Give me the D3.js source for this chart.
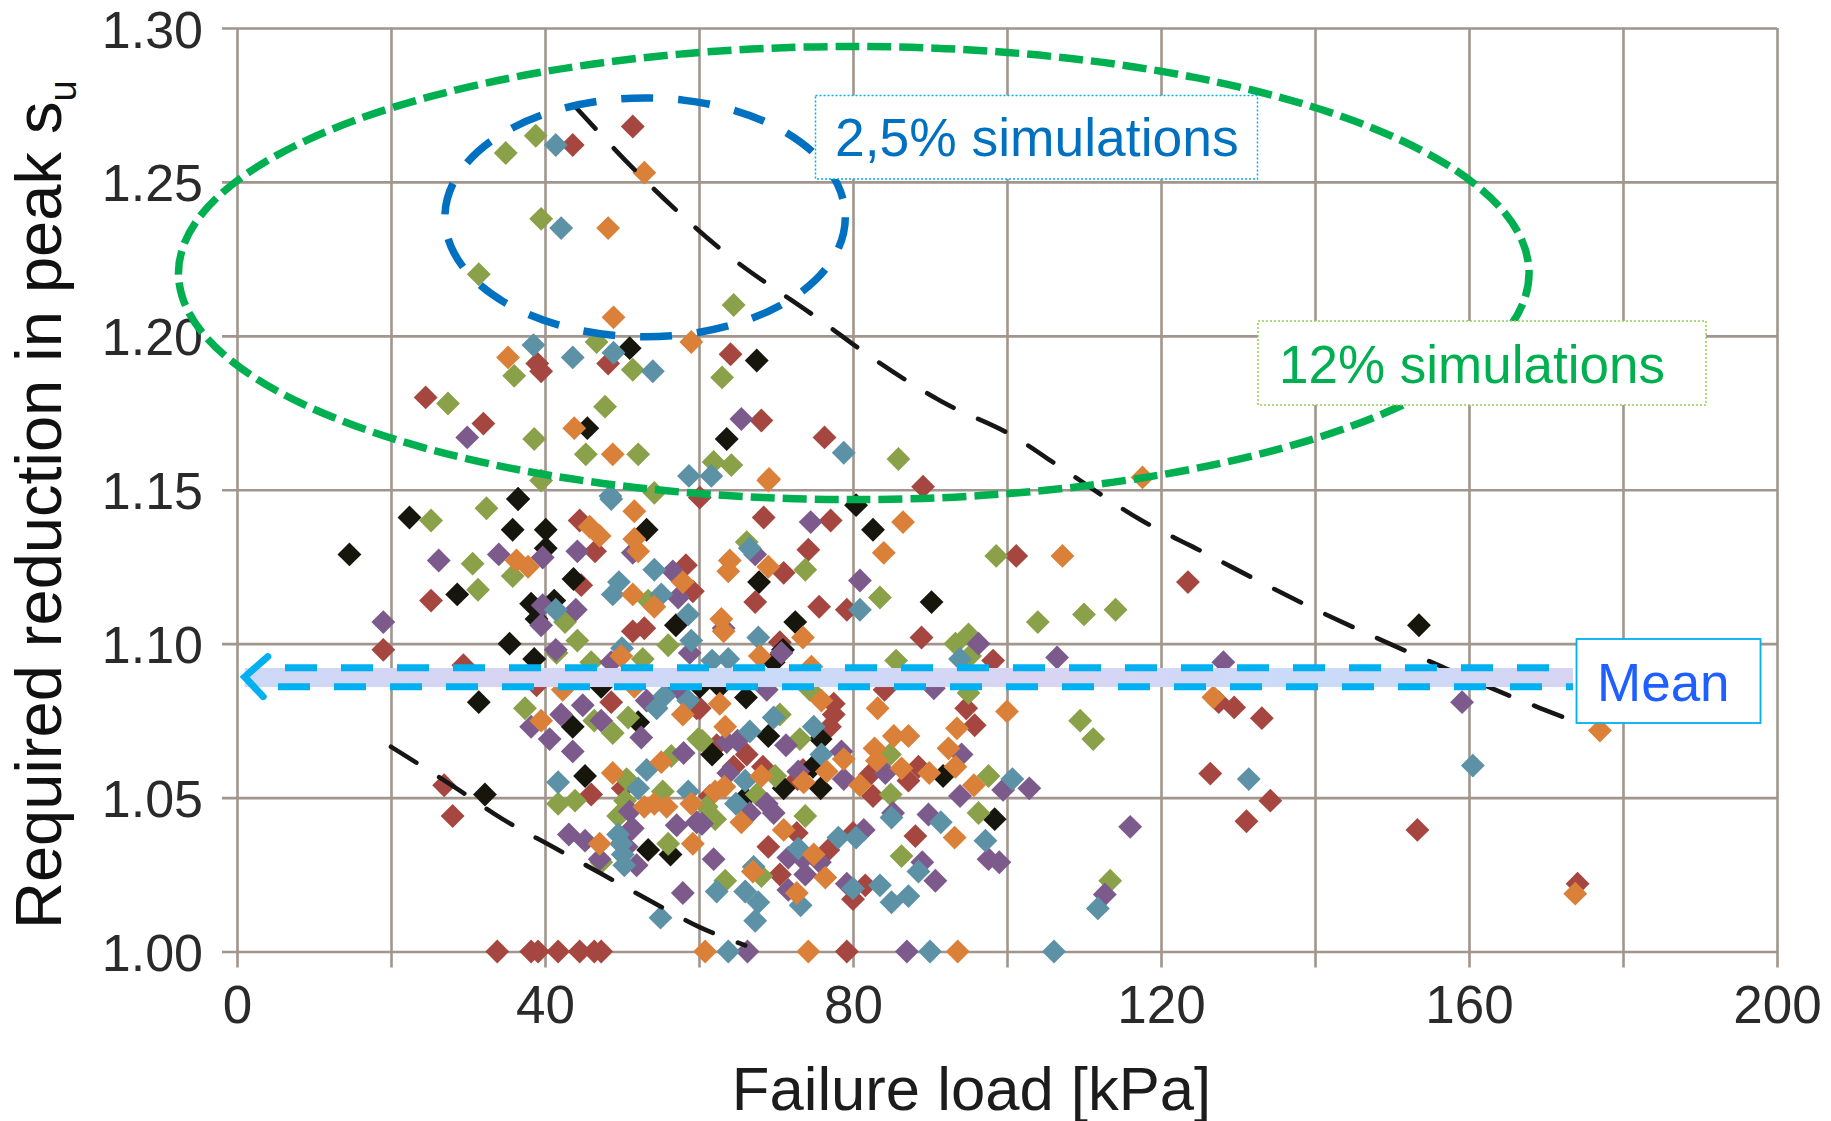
<!DOCTYPE html>
<html><head><meta charset="utf-8">
<script src="https://cdn.jsdelivr.net/npm/d3@7/dist/d3.min.js"></script>
<style>html,body{margin:0;padding:0;background:#fff}svg{display:block}</style>
</head><body><svg id="c" width="1831" height="1121"></svg>
<script>
const xTicks=[0,20,40,60,80,100,120,140,160,180,200];
const yTicks=[1.00,1.05,1.10,1.15,1.20,1.25,1.30];
const xTitle="Failure load [kPa]";
const yTitle="Required reduction in peak s";
const yTitleSub="u";
const seriesNames=["red","black","olive","purple","teal","orange"];
const seriesColors=["#A5473F","#171611","#8AA148","#7D5A8C","#5B91A6","#DB8037"];

const red=[[25.2,1.114],[19,1.098],[29.4,1.093],[44.5,1.14],[46.5,1.13],[44.7,1.119],[51.4,1.104],[52.9,1.105],[58.3,1.1255],[38.9,1.0865],[48.6,1.081],[46,1.051],[26.9,1.054],[28,1.044],[33.8,1],[38.2,1],[39.1,1],[41.7,1],[44.5,1],[46.4,1],[47.3,1],[51.2,1.0397],[59.2,1.117],[50.1,1.053],[59.7,1.079],
[60.1,1.1475],[68.4,1.141],[77.1,1.14],[74.2,1.1305],[71,1.123],[67.3,1.1135],[75.6,1.112],[79.2,1.111],[88.9,1.102],[101.2,1.1285],[89.1,1.151],[98.2,1.0945],[84.1,1.085],[70.5,1.1005],[94.7,1.079],[95.8,1.0735],[77.5,1.0805],[77.5,1.077],[77,1.073],[60.1,1.079],[66.2,1.064],[68.3,1.06],[88.5,1.06],[87.2,1.0555],[82.2,1.0575],[82.6,1.0505],[72.8,1.056],[61.4,1.0505],[72.7,1.0385],[69,1.034],[76.8,1.033],[70.5,1.025],[80,1.0385],[88.1,1.0375],[81.6,1.0215],[80,1.017],[79.2,1],[64.5,1.06],[62.3,1.067],[73.5,1.059],
[43.6,1.262],[51.4,1.268],[24.5,1.18],[32,1.1715],[39,1.191],[39.5,1.1885],[48.2,1.191],[64.1,1.194],[68.1,1.1725],[76.3,1.167],
[123.5,1.12],[129.5,1.0793],[127.5,1.081],[133.1,1.0758],[126.4,1.0578],[134.2,1.049],[131.1,1.0423],[153.3,1.0395],[174.1,1.022]];

const black=[[14.6,1.129],[22.4,1.141],[36.5,1.147],[35.8,1.137],[40.1,1.137],[40.1,1.131],[28.6,1.116],[43.7,1.121],[38.2,1.113],[41.2,1.114],[38.9,1.108],[57,1.106],[53.2,1.137],[35.4,1.1],[38.6,1.095],[47.3,1.086],[31.4,1.081],[43.6,1.073],[52.1,1.0745],[45.2,1.057],[32.2,1.051],[53.4,1.033],[56.3,1.0315],
[80.4,1.145],[82.6,1.137],[67.8,1.12],[72.5,1.107],[90.2,1.1135],[66.1,1.0825],[60.1,1.086],[62.7,1.086],[69,1.07],[75.8,1.069],[61.7,1.064],[74.8,1.06],[71,1.053],[75.8,1.053],[91.7,1.057],[98.4,1.043],[66,1.05],[70.9,1.098],[69.7,1.094],
[51,1.196],[67.5,1.192],[45.5,1.17],[63.6,1.1665],[36.5,1.147],[153.5,1.106]];

const olive=[[25.2,1.14],[32.4,1.144],[30.6,1.126],[31.3,1.1175],[35.8,1.122],[39.5,1.153],[54.2,1.149],[42.6,1.107],[44.2,1.101],[41.5,1.097],[56,1.0995],[46,1.094],[52.7,1.095],[53.4,1.114],[37.4,1.079],[48.8,1.071],[46.4,1.075],[50.8,1.076],[41.7,1.048],[43.9,1.049],[50.6,1.056],[49.5,1.044],[50.4,1.049],[55.3,1.052],[56,1.035],[47.3,1.029],[56.4,1.0635],[59.9,1.069],
[66.2,1.133],[73.8,1.124],[83.5,1.115],[98.6,1.1285],[104,1.107],[110,1.1095],[114.1,1.111],[85.6,1.0945],[93.3,1.1],[95,1.103],[95.2,1.096],[95,1.084],[70.5,1.077],[73.1,1.069],[60.4,1.0685],[84.8,1.064],[69.9,1.057],[97.6,1.057],[84.9,1.051],[67.5,1.051],[73.8,1.044],[96.3,1.045],[61,1.047],[62.1,1.043],[86.3,1.031],[63.4,1.023],[109.5,1.075],[111.2,1.069],[113.4,1.023],[68.1,1.0245],[74.4,1.085],
[34.9,1.2594],[38.8,1.265],[39.5,1.238],[31.4,1.22],[64.5,1.21],[46.7,1.198],[51.4,1.189],[63,1.1865],[36,1.187],[27.4,1.178],[47.8,1.177],[38.6,1.1665],[45.3,1.1615],[52.1,1.1615],[61.9,1.159],[64.2,1.158],[85.9,1.16]];

const purple=[[26.2,1.127],[19,1.107],[34,1.129],[39.7,1.128],[44.2,1.13],[51.4,1.1295],[39.7,1.1125],[44,1.111],[39.5,1.106],[41.4,1.098],[56.6,1.1235],[57.3,1.115],[58.8,1.097],[48.6,1.094],[53.2,1.0815],[57.3,1.0855],[38.2,1.073],[42.1,1.077],[44.9,1.08],[47.3,1.075],[40.6,1.069],[43.6,1.065],[52.5,1.0695],[58,1.0645],[51,1.0455],[51.4,1.04],[43.1,1.038],[45.2,1.036],[47.1,1.03],[51.9,1.028],[50.6,1.034],[57.1,1.041],[57.9,1.019],[59.7,1.042],
[74.5,1.1395],[67.3,1.129],[80.9,1.1205],[63.2,1.105],[70.7,1.097],[96.3,1.1],[106.5,1.0955],[90.5,1.0855],[68.8,1.085],[63.6,1.068],[65,1.0685],[71.3,1.067],[94.1,1.064],[78.5,1.065],[72.9,1.0585],[63.8,1.058],[78.8,1.056],[84.2,1.058],[93.9,1.0505],[99.5,1.0525],[102.9,1.053],[68.8,1.048],[69.7,1.045],[66.6,1.045],[89.8,1.0445],[85.2,1.045],[60.4,1.0415],[81.4,1.0395],[116,1.0405],[61.9,1.03],[71.6,1.0305],[73.8,1.025],[75.7,1.029],[73.5,1.03],[89,1.029],[97.6,1.03],[99,1.029],[90.7,1.023],[79.2,1.022],[71.6,1.02],[112.7,1.0185],[66.3,1],[87,1],
[29.9,1.167],[65.5,1.173],[128.1,1.094],[159.1,1.081]];

const teal=[[48.6,1.147],[54.2,1.124],[49.6,1.12],[48.8,1.116],[55.1,1.116],[58.6,1.1095],[59,1.101],[41.4,1.111],[50,1.0985],[54.5,1.079],[55.5,1.083],[58.6,1.0815],[41.7,1.055],[53.2,1.059],[52.1,1.053],[58.6,1.052],[49.5,1.038],[49.9,1.035],[50.1,1.0315],[50.3,1.028],[55,1.011],
[66.6,1.131],[80.9,1.111],[67.7,1.102],[63.8,1.095],[61.7,1.0945],[93.9,1.095],[69.7,1.076],[74.9,1.073],[66.6,1.0715],[75.9,1.064],[66,1.0555],[64.8,1.048],[85,1.0435],[91.4,1.042],[100.7,1.056],[97.2,1.036],[72.9,1.0335],[78.1,1.037],[80.4,1.037],[88.5,1.026],[62.3,1.0195],[66,1.0195],[67.7,1.016],[67.1,1.0275],[73.2,1.015],[67.3,1.01],[80,1.0205],[83.5,1.0215],[85,1.016],[87.2,1.018],[111.8,1.014],[63.8,1],[90,1],[106.1,1],
[41.4,1.262],[42.1,1.235],[38.5,1.197],[43.6,1.193],[48.9,1.1945],[54,1.1885],[58.7,1.1545],[61.6,1.1545],[78.8,1.162],[48.5,1.148],[131.4,1.056],[160.5,1.0604]];

const orange=[[51.6,1.143],[36.3,1.127],[37.8,1.125],[45.8,1.138],[47.1,1.135],[51.6,1.134],[52.1,1.13],[57.9,1.12],[51.4,1.116],[54.2,1.112],[49.9,1.096],[39.5,1.075],[57.9,1.077],[48.8,1.058],[55.1,1.0615],[47.1,1.035],[52.9,1.047],[54.2,1.048],[55.8,1.047],[59,1.048],[59.2,1.035],[42.3,1.085],[51.6,1.086],
[86.5,1.1395],[84,1.1295],[64,1.127],[63.8,1.1235],[69,1.125],[107.2,1.1285],[62.9,1.108],[63.2,1.104],[73.5,1.102],[67.9,1.096],[74.6,1.0925],[75.9,1.0815],[83.2,1.079],[62.7,1.0805],[63.4,1.073],[100,1.078],[93.5,1.0725],[85.3,1.07],[87.2,1.07],[82.8,1.066],[92.4,1.066],[83.1,1.062],[93.3,1.06],[86.3,1.0595],[89.9,1.058],[78.8,1.0625],[76.6,1.0585],[80.9,1.054],[68.1,1.057],[73.6,1.055],[95.7,1.054],[63.3,1.0535],[62.1,1.052],[65.5,1.042],[71,1.0395],[74.9,1.0315],[93.2,1.037],[76.4,1.024],[67,1.026],[72.7,1.019],[60.8,1],[74.2,1],[93.6,1],[69,1.153],
[52.9,1.253],[48.2,1.235],[48.9,1.206],[59,1.198],[35.2,1.193],[43.8,1.17],[48.8,1.1615],[69.1,1.1535],
[117.6,1.154],[126.8,1.0826],[173.8,1.0188],[177,1.0718]];

const seriesData=[red,black,olive,purple,teal,orange];

const upperEnvelope=[[43.9,1.2745],[53.2,1.25],[62.4,1.229],[75.8,1.205],[82.4,1.193],[92,1.178],[100.4,1.168],[108,1.1555],[117.5,1.14],[124.8,1.1306],[139.3,1.112],[154.2,1.095],[169.3,1.079],[175,1.0735]];
const lowerEnvelope=[[20,1.0665],[28.5,1.053],[34.5,1.043],[41,1.034],[47.5,1.025],[54,1.016],[60,1.008],[66,1.002]];
const meanValue=1.089, meanUpper=1.0922, meanLower=1.0860, meanFromX=1, meanToX=173.5;
const arrowHead=[[4,1.0958],[1,1.0892],[3.4,1.0828]];
const greenEllipse={cx:80.1,cy:1.2204,rx:87.7,ry:0.0736};
const blueEllipse={cx:53,cy:1.2385,rx:26,ry:0.0388};

const W=1831,H=1121;
const FF="'Liberation Sans',Arial,sans-serif";
const x=d3.scaleLinear().domain([0,200]).range([237,1777]);
const y=d3.scaleLinear().domain([1,1.3]).range([951.5,28]);
const svg=d3.select("#c");
const defs=svg.append("defs");
const blur=defs.append("filter").attr("id","soft").attr("x","-5%").attr("y","-5%").attr("width","110%").attr("height","110%");
blur.append("feGaussianBlur").attr("stdDeviation",0.7);
const grad=defs.append("linearGradient").attr("id","band");
[["0%","#ccd9f7"],["20%","#d8d4f3"],["40%","#c9dbf9"],["60%","#dad4f3"],["80%","#c8dcfa"],["100%","#d6d4f3"]].forEach(s=>grad.append("stop").attr("offset",s[0]).attr("stop-color",s[1]));

const GRID="#A1958D";
const gx=svg.append("g").attr("transform",`translate(0,${y(1)})`)
 .call(d3.axisBottom(x).tickValues(xTicks).tickFormat(d=>d%40===0?d:"").tickSizeOuter(0));
gx.select(".domain").remove();
gx.selectAll(".tick line").attr("y1",16).attr("y2",y(1.3)-y(1)).attr("stroke",GRID).attr("stroke-width",2.6);
gx.selectAll(".tick text").attr("y",0).attr("dy",71).attr("font-family",FF).attr("font-size",53).attr("fill","#2a2a2a");
const gy=svg.append("g").attr("transform",`translate(${x(0)},0)`)
 .call(d3.axisLeft(y).tickValues(yTicks).tickFormat(d3.format(".2f")).tickSizeOuter(0));
gy.select(".domain").remove();
gy.selectAll(".tick line").attr("x1",-15).attr("x2",x(200)-x(0)).attr("stroke",GRID).attr("stroke-width",2.6);
gy.selectAll(".tick text").attr("x",-34).attr("dy",19).attr("font-family",FF).attr("font-size",52).attr("fill","#2a2a2a");

const sym=d3.symbol().type(d3.symbolSquare).size(285);
const marks=svg.append("g").attr("filter","url(#soft)");
seriesData.forEach((s,i)=>{
 marks.append("g").attr("class",seriesNames[i]).selectAll("path").data(s).join("path")
  .attr("d",sym).attr("fill",seriesColors[i])
  .attr("transform",d=>`translate(${x(d[0])},${y(d[1])}) rotate(45)`);
});

const line=d3.line().x(d=>x(d[0])).y(d=>y(d[1])).curve(d3.curveMonotoneX);
[upperEnvelope,lowerEnvelope].forEach(l=>{
 svg.append("path").attr("d",line(l)).attr("fill","none").attr("stroke","#161616").attr("stroke-width",4.6)
  .attr("stroke-linecap","round").attr("stroke-dasharray","30 27");
});

// mean band
svg.append("rect").attr("x",x(meanFromX)).attr("width",x(meanToX)-x(meanFromX))
 .attr("y",y(meanValue)-9.5).attr("height",19).attr("fill","url(#band)");
[[meanUpper,"#00B0F0",285],[meanLower,"#00B0F0",278]].forEach(m=>{
 svg.append("line").attr("x1",m[2]).attr("x2",x(meanToX)).attr("y1",y(m[0])).attr("y2",y(m[0]))
  .attr("stroke",m[1]).attr("stroke-width",7).attr("stroke-dasharray","32 24");
});
svg.append("path").attr("d",d3.line().x(d=>x(d[0])).y(d=>y(d[1]))(arrowHead))
 .attr("fill","none").attr("stroke","#00B0F0").attr("stroke-width",7).attr("stroke-linecap","round");

// ellipses
function ell(e,c,w,dash){
 svg.append("ellipse").attr("cx",x(e.cx)).attr("cy",y(e.cy)).attr("rx",x(e.rx)-x(0)).attr("ry",y(1)-y(1+e.ry))
  .attr("fill","none").attr("stroke",c).attr("stroke-width",w).attr("stroke-dasharray",dash);
}
ell(greenEllipse,"#00B050",7.5,"24 8");
ell(blueEllipse,"#0070C0",7.5,"32 25");

// callouts
function box(bx,by,bw,bh,stroke,dash,sw,label,color,tx,ty,fs){
 svg.append("rect").attr("x",bx).attr("y",by).attr("width",bw).attr("height",bh).attr("fill","#fff")
  .attr("stroke",stroke).attr("stroke-width",sw).attr("stroke-dasharray",dash);
 svg.append("text").attr("x",tx).attr("y",ty).attr("font-family",FF).attr("font-size",fs).attr("fill",color).text(label);
}
box(815.5,95.5,442,83.5,"#00B0F0","2 2",1.5,"2,5% simulations","#0070C0",835,156,53.4);
box(1258,321,448,84,"#92D050","2 2",1.5,"12% simulations","#00B050",1279,383,53);
box(1576.5,639,184,84,"#00B0F0",null,1.8,"Mean","#1F5FFF",1597,701,53);

// titles
svg.append("text").attr("x",971.5).attr("y",1109.5).attr("text-anchor","middle").attr("font-family",FF)
 .attr("font-size",61.6).attr("fill","#1c1c1c").text(xTitle);
const yt=svg.append("text").attr("transform","translate(60.5,929) rotate(-90)").attr("font-family",FF)
 .attr("font-size",65).attr("fill","#111").text(yTitle);
yt.append("tspan").attr("font-size",38).attr("dy",15).text(yTitleSub);
</script></body></html>
